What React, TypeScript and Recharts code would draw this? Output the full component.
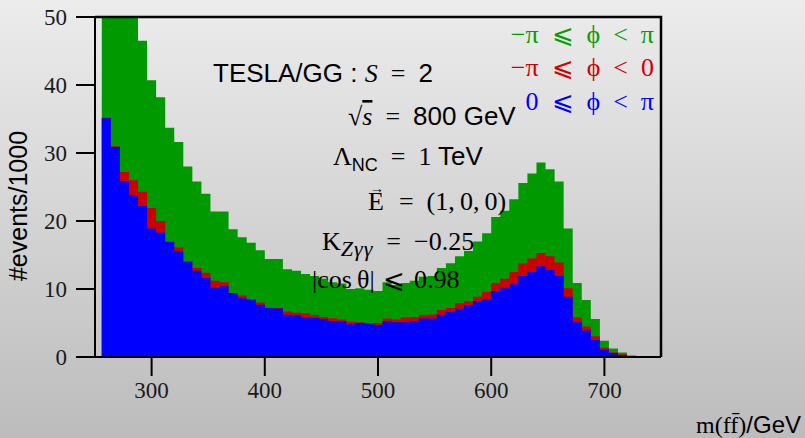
import React from 'react';
import { ComposedChart, Area, XAxis, YAxis } from 'recharts';

// histogram binning in m(ff) [GeV]
const binLo = 256;
const binW = 8;

// -pi <= phi < pi (green)
const allPhi = [
  70.3, 61.9, 53.1, 50.3, 46.5, 40.7, 38.2, 33.7, 31.6, 28.0,
  25.8, 24.0, 21.4, 21.4, 18.8, 17.6, 16.8, 15.7, 14.4, 14.4,
  12.9, 12.7, 12.2, 11.9, 11.5, 11.0, 10.8, 10.0, 10.1, 9.9,
  9.7, 11.0, 10.6, 10.9, 11.2, 11.8, 11.9, 13.1, 13.8, 14.8,
  15.6, 17.0, 18.2, 20.6, 21.5, 23.2, 25.6, 27.0, 28.6, 27.6,
  25.8, 18.9, 10.9, 8.4, 5.6, 2.4, 1.25, 0.66, 0.22,
];

// -pi <= phi < 0 (red)
const negPhi = [
  35.2, 31.0, 27.2, 26.0, 24.3, 21.9, 20.0, 17.0, 16.1, 14.0,
  13.1, 12.4, 11.2, 11.0, 9.4, 9.05, 8.5, 8.0, 7.25, 7.2,
  6.7, 6.5, 6.45, 6.15, 5.9, 5.7, 5.5, 5.2, 5.1, 5.0,
  5.0, 5.66, 5.5, 5.8, 5.9, 6.15, 6.25, 6.9, 7.2, 7.9,
  8.2, 8.85, 9.6, 10.9, 11.5, 12.5, 13.75, 14.5, 15.3, 14.8,
  13.9, 10.1, 5.8, 4.5, 3.06, 1.35, 0.7, 0.4, 0.12,
];

// 0 <= phi < pi (blue)
const posPhi = [
  35.1, 30.9, 25.9, 23.8, 22.2, 18.9, 18.3, 16.9, 15.5, 14.0,
  12.7, 11.6, 10.2, 10.4, 9.4, 8.65, 8.45, 7.7, 7.2, 7.15,
  6.2, 6.15, 5.85, 5.75, 5.6, 5.3, 5.27, 4.8, 5.0, 4.9,
  4.7, 5.27, 5.1, 5.1, 5.27, 5.66, 5.66, 6.2, 6.6, 7.1,
  7.6, 8.2, 8.45, 9.7, 10.1, 10.7, 11.9, 12.5, 13.35, 12.8,
  11.9, 8.85, 5.1, 3.9, 2.5, 1.1, 0.6, 0.3, 0.1,
];

const xTicks = [300, 400, 500, 600, 700];
const yTicks = [0, 10, 20, 30, 40, 50];

const GREEN = '#009900';
const RED = '#cc0000';
const BLUE = '#0000ff';
const SERIF = '"Liberation Serif", "DejaVu Serif", serif';
const SANS = '"Liberation Sans", Arial, sans-serif';
const SP = '\u2002'; // en space
const TH = '\u2009'; // thin space

// plot box (chart margins + axis sizes)
const W = 805;
const H = 438;
const M = { top: 17, right: 144, bottom: 0, left: 0 };
const Y_AXIS_W = 95;
const X_AXIS_H = 81;

// step rows: one per bin left edge plus a closing right edge
const rows = allPhi.map((v, i) => ({
  m: binLo + i * binW,
  all: v,
  neg: negPhi[i],
  pos: posPhi[i],
}));
const last = rows[rows.length - 1];
rows.push({ ...last, m: last.m + binW });

const tickStyle = { fontFamily: SERIF, fontSize: 23, fill: '#1a1a1a' };
const axisStroke = { stroke: '#000', strokeWidth: 2 };

export default function App() {
  const plotL = M.left + Y_AXIS_W;
  const plotT = M.top;
  const plotR = W - M.right;
  const plotB = H - M.bottom - X_AXIS_H;
  return (
    <div
      style={{
        position: 'absolute',
        left: 0,
        top: 0,
        width: W,
        height: H,
        background: 'linear-gradient(to bottom, #ececec, #bcbcbc)',
        overflow: 'hidden',
      }}
    >
      <ComposedChart width={W} height={H} data={rows} margin={M}>
        <XAxis
          dataKey="m"
          type="number"
          domain={[250, 750]}
          ticks={xTicks}
          allowDataOverflow
          height={X_AXIS_H}
          tickSize={19}
          tickMargin={6}
          tick={tickStyle}
          axisLine={axisStroke}
          tickLine={axisStroke}
        />
        <YAxis
          type="number"
          domain={[0, 50]}
          ticks={yTicks}
          allowDataOverflow
          width={Y_AXIS_W}
          tickSize={19}
          tickMargin={9}
          tick={tickStyle}
          axisLine={axisStroke}
          tickLine={axisStroke}
        />
        <Area
          dataKey="all"
          type="stepAfter"
          fill={GREEN}
          fillOpacity={1}
          stroke="none"
          dot={false}
          activeDot={false}
          isAnimationActive={false}
        />
        <Area
          dataKey="neg"
          type="stepAfter"
          fill={RED}
          fillOpacity={1}
          stroke="none"
          dot={false}
          activeDot={false}
          isAnimationActive={false}
        />
        <Area
          dataKey="pos"
          type="stepAfter"
          fill={BLUE}
          fillOpacity={1}
          stroke="none"
          dot={false}
          activeDot={false}
          isAnimationActive={false}
        />
      </ComposedChart>

      <svg
        width={W}
        height={H}
        style={{ position: 'absolute', left: 0, top: 0, pointerEvents: 'none' }}
      >
        {/* top and right sides of the plot frame */}
        <path
          d={`M${plotL},${plotT} L${plotR},${plotT} L${plotR},${plotB}`}
          fill="none"
          stroke="#000"
          strokeWidth={2.5}
        />

        {/* legend */}
        <g fontFamily={SERIF} fontSize={26} textAnchor="end">
          <text x={654} y={43} fill="#00a000">{`−π${SP}⩽${SP}ϕ${SP}<${SP}π`}</text>
          <text x={654} y={76} fill="#d00000">{`−π${SP}⩽${SP}ϕ${SP}<${SP}0`}</text>
          <text x={654} y={110} fill={BLUE}>{`0${SP}⩽${SP}ϕ${SP}<${SP}π`}</text>
        </g>

        {/* parameters */}
        <g fill="#000" fontSize={26}>
          <text x={213} y={82}>
            <tspan fontFamily={SANS}>TESLA/GG : </tspan>
            <tspan fontFamily={SERIF} fontStyle="italic">S</tspan>
            <tspan fontFamily={SERIF}>{`${SP}=${SP}`}</tspan>
            <tspan fontFamily={SANS}>2</tspan>
          </text>
          <text x={348} y={125}>
            <tspan fontFamily={SERIF}>√</tspan>
            <tspan fontFamily={SERIF} fontStyle="italic" style={{ textDecoration: 'overline' }}>s</tspan>
            <tspan fontFamily={SERIF}>{`${SP}=${SP}`}</tspan>
            <tspan fontFamily={SANS}>800 GeV</tspan>
          </text>
          <text x={333} y={165}>
            <tspan fontFamily={SERIF}>Λ</tspan>
            <tspan fontFamily={SANS} fontSize={18} dy={6}>NC</tspan>
            <tspan fontFamily={SERIF} dy={-6}>{`${SP}=${SP}1 `}</tspan>
            <tspan fontFamily={SANS}>TeV</tspan>
          </text>
          <text x={368} y={210} fontFamily={SERIF}>
            <tspan>E</tspan>
            <tspan fontSize={14} dx={-14} dy={-17}>→</tspan>
            <tspan dx={2} dy={17}>{`${SP}=${SP}(1,${TH}0,${TH}0)`}</tspan>
          </text>
          <text x={322} y={250} fontFamily={SERIF}>
            <tspan>K</tspan>
            <tspan fontSize={22} fontStyle="italic" dy={6} letterSpacing={1}>Zγγ</tspan>
            <tspan dy={-6}>{`${SP}=${SP}−0.25`}</tspan>
          </text>
          <text x={312} y={288} fontFamily={SERIF}>{`|cos${TH}θ|\u2004⩽\u20040.98`}</text>
        </g>

        {/* axis titles */}
        <text
          x={27}
          y={206}
          transform="rotate(-90 27 206)"
          textAnchor="middle"
          fontFamily={SANS}
          fontSize={25}
          fill="#000"
        >
          #events/1000
        </text>
        <text x={801} y={433} textAnchor="end" fontSize={24} fill="#000">
          <tspan fontFamily={SERIF}>m(ff̄)</tspan>
          <tspan fontFamily={SANS}>/GeV</tspan>
        </text>
      </svg>
    </div>
  );
}
